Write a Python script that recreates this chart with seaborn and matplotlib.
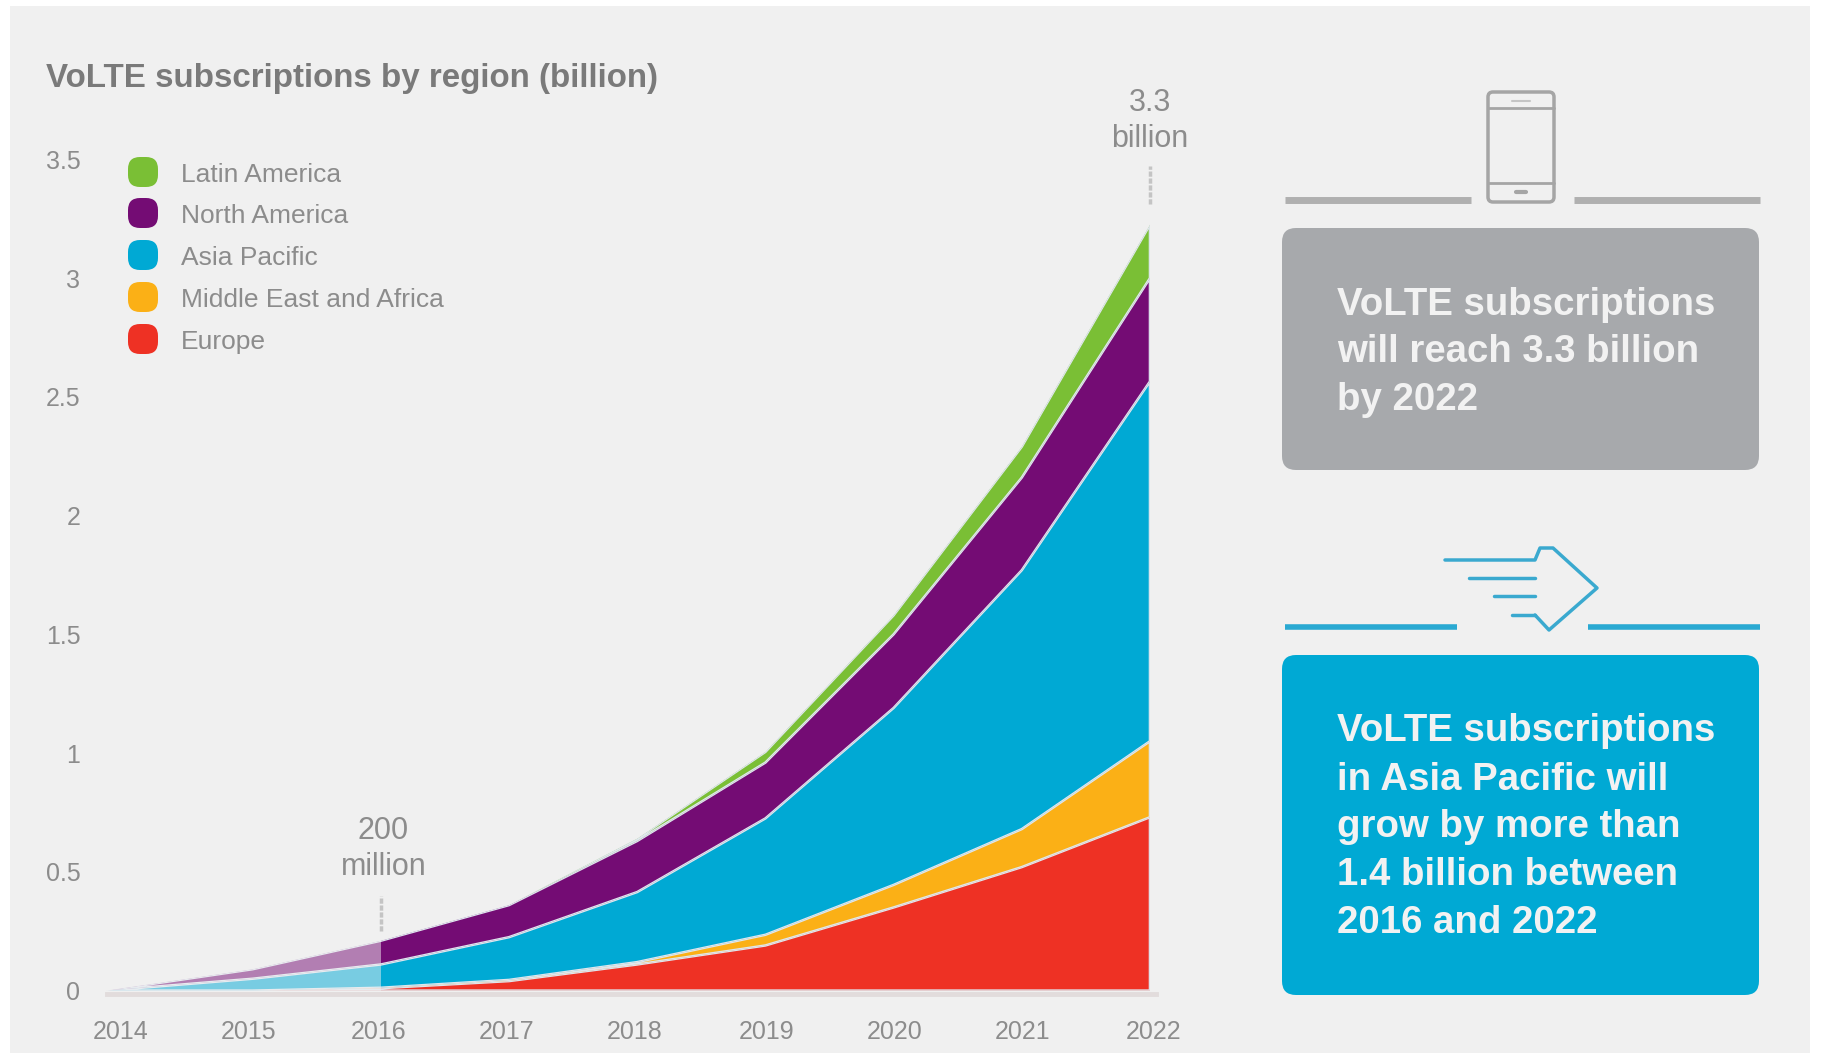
import matplotlib
matplotlib.use("Agg")
import matplotlib.pyplot as plt
from matplotlib.patches import FancyBboxPatch, Rectangle
import pandas as pd
import seaborn as sns
import seaborn.objects as so

# year positions, the 2014 start sits a little left of its label in the picture
years = [2013.86, 2015, 2016, 2017, 2018, 2019, 2020, 2021, 2022]
tick_pos = [2013.97, 2014.97, 2015.98, 2016.98, 2017.98, 2019.01, 2020.01, 2021.01, 2022.03]
tick_labels = ["2014", "2015", "2016", "2017", "2018", "2019", "2020", "2021", "2022"]

europe = [0, 0, 0.01, 0.04, 0.11, 0.19, 0.35, 0.52, 0.73]
mea = [0, 0, 0.002, 0.005, 0.01, 0.045, 0.095, 0.16, 0.32]
asia = [0, 0.05, 0.098, 0.18, 0.295, 0.49, 0.745, 1.09, 1.515]
north_america = [0, 0.04, 0.10, 0.135, 0.215, 0.235, 0.31, 0.39, 0.435]
latin_america = [0, 0, 0, 0, 0.01, 0.045, 0.08, 0.13, 0.225]

y_ticks = [0, 0.5, 1, 1.5, 2, 2.5, 3, 3.5]
y_labels = ["0", "0.5", "1", "1.5", "2", "2.5", "3", "3.5"]

region_colors = {
    "Latin America": "#7abf35",
    "North America": "#740c74",
    "Asia Pacific": "#00a9d4",
    "Middle East and Africa": "#fbb016",
    "Europe": "#ee3124",
}

BG = "#f0f0f0"
TEXT = "#8c8c8c"
W, H = 1825, 1058

sns.set_theme(style="white")
plt.rcParams["font.family"] = ["Liberation Sans", "DejaVu Sans"]

df = pd.DataFrame({
    "year": years,
    "Europe": europe,
    "Middle East and Africa": mea,
    "Asia Pacific": asia,
    "North America": north_america,
    "Latin America": latin_america,
})
long_df = df.melt(id_vars="year", var_name="region", value_name="subs")

fig = plt.figure(figsize=(W / 100, H / 100), dpi=100, facecolor="white")

# page layer in pixel coordinates
page = fig.add_axes([0, 0, 1, 1], zorder=0)
page.set_xlim(0, W)
page.set_ylim(H, 0)
page.axis("off")
page.add_patch(Rectangle((10, 6), 1800, 1047, color=BG, lw=0))

# x: 2022 at px 1150, 128.2 px a year; y: 0 at px 990.6, 237.5 px per billion
left, right = 86, 1175.6
top, bottom = 135.6, 990.6
ax = fig.add_axes([left / W, 1 - bottom / H, (right - left) / W, (bottom - top) / H], zorder=1)
ax.patch.set_alpha(0)

(
    so.Plot(long_df, x="year", y="subs", color="region")
    .add(so.Area(alpha=1, edgecolor="#dfe6ee", edgewidth=0.9), so.Stack(), legend=False)
    .scale(color=so.Nominal(region_colors))
    .on(ax)
    .plot()
)

# years before 2016 are washed out, only under the curve so legend stays solid
ax.axvspan(2013.5, 2016, ymax=0.065, color=BG, alpha=0.5, lw=0, zorder=5)

ax.set_xlim(2013.7, 2022.2)
ax.set_ylim(0, 3.6)
ax.set_xticks(tick_pos, tick_labels)
ax.set_yticks(y_ticks, y_labels)
ax.set_xlabel("")
ax.set_ylabel("")
ax.grid(False)
ax.tick_params(axis="x", length=0, pad=19, labelsize=18, labelcolor=TEXT)
ax.tick_params(axis="y", length=0, pad=4, labelsize=18, labelcolor=TEXT)
for side in ["top", "right", "left"]:
    ax.spines[side].set_visible(False)
ax.spines["bottom"].set_position(("outward", 2.5))
ax.spines["bottom"].set_bounds(2013.86, 2022.05)
ax.spines["bottom"].set_color("#e2dcdc")
ax.spines["bottom"].set_linewidth(3.5)

# callouts
ax.text(2022, 3.66, "3.3\nbillion", ha="center", va="center", fontsize=22,
        color=TEXT, linespacing=1.25)
ax.plot([2022, 2022], [3.31, 3.47], color="#c4c4c4", lw=2.5, ls=(0, (1.5, 0.5)), clip_on=False)
ax.text(2016.02, 0.595, "200\nmillion", ha="center", va="center", fontsize=22,
        color=TEXT, linespacing=1.25)
ax.plot([2016, 2016], [0.25, 0.4], color="#c4c4c4", lw=2.5, ls=(0, (1.5, 0.5)), zorder=6)

page.text(46, 78, "VoLTE subscriptions by region (billion)", fontsize=23.9, fontweight="bold",
          color="#7a7a7a", va="center", ha="left")

# legend
for (name, color), y in zip(region_colors.items(), [172, 213, 255, 297, 339]):
    page.add_patch(FancyBboxPatch((137, y - 6), 12, 12, boxstyle="round,pad=9,rounding_size=12",
                                  fc=color, ec="none"))
    page.text(181, y + 3, name, fontsize=19, color=TEXT, va="center", ha="left")

# right hand panels
page.add_patch(FancyBboxPatch((1294, 240), 453, 218, boxstyle="round,pad=12,rounding_size=14",
                              fc="#a7a9ac", ec="none"))
page.add_patch(FancyBboxPatch((1294, 667), 453, 316, boxstyle="round,pad=12,rounding_size=14",
                              fc="#00a9d4", ec="none"))

for y, line in zip([305, 352, 400], ["VoLTE subscriptions", "will reach 3.3 billion", "by 2022"]):
    page.text(1337, y, line, fontsize=27.6, fontweight="bold", color="#f2f2f2", va="center", ha="left")
blue_lines = ["VoLTE subscriptions", "in Asia Pacific will", "grow by more than",
              "1.4 billion between", "2016 and 2022"]
for y, line in zip([731, 780, 827, 875, 923], blue_lines):
    page.text(1337, y, line, fontsize=27.6, fontweight="bold", color="#f2f2f2", va="center", ha="left")

# divider lines
page.plot([1285, 1471], [200, 200], color="#b0b0b0", lw=5, solid_capstyle="butt")
page.plot([1574, 1760], [200, 200], color="#b0b0b0", lw=5, solid_capstyle="butt")
page.plot([1285, 1457], [627, 627], color="#2aa9d2", lw=4, solid_capstyle="butt")
page.plot([1588, 1760], [627, 627], color="#2aa9d2", lw=4, solid_capstyle="butt")

# phone icon
page.add_patch(FancyBboxPatch((1488, 92), 66, 110, boxstyle="round,pad=0,rounding_size=5",
                              fc="none", ec="#a5a5a5", lw=2.5))
page.plot([1488, 1554], [108, 108], color="#a5a5a5", lw=2)
page.plot([1488, 1554], [183, 183], color="#a5a5a5", lw=2)
page.plot([1512, 1530], [101, 101], color="#c4c4c4", lw=1.5)
page.plot([1516, 1526], [192, 192], color="#a5a5a5", lw=3)

# arrow icon
arrow_c = "#3aa9cf"
page.plot([1445, 1535, 1540, 1553, 1597, 1549, 1535],
          [560, 560, 548, 548, 588, 630, 615], color=arrow_c, lw=2.5)
page.plot([1469, 1535], [578, 578], color=arrow_c, lw=2.5)
page.plot([1494, 1535], [596, 596], color=arrow_c, lw=2.5)
page.plot([1512, 1535], [615, 615], color=arrow_c, lw=2.5)

fig.savefig("out.png", dpi=100, facecolor="white")
